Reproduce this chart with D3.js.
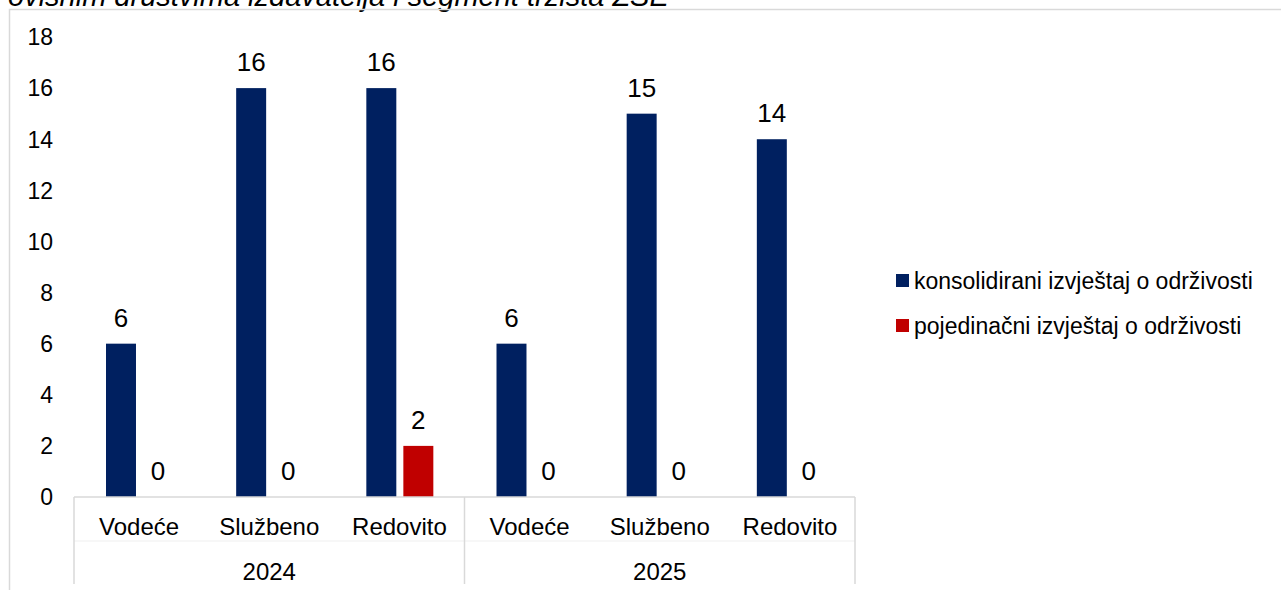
<!DOCTYPE html>
<head>
  <meta charset="utf-8">
  <script src="https://cdn.jsdelivr.net/npm/d3@7"></script>
  <style>
    body { margin: 0; background: #fff; font-family: Arial, 'Liberation Sans', sans-serif; }
    svg text { fill: #000; }
  </style>
</head>
<body>
<div id=chart></div>
<script>
// data
const years = ['2024', '2025']
const segments = ['Vodeće', 'Službeno', 'Redovito']
const series = ['konsolidirani izvještaj o održivosti', 'pojedinačni izvještaj o održivosti']
const consolidated = [6, 16, 16, 6, 15, 14]
const individual = [0, 0, 2, 0, 0, 0]
const y_ticks = [0, 2, 4, 6, 8, 10, 12, 14, 16, 18]
const title_tail = 'ovisnim društvima izdavatelja i segment tržišta ZSE'

const colors = ['#002060', '#C00000']
const grid = '#d9d9d9'

const width = 1281, height = 590
const svg = d3.select('#chart').append('svg')
  .attr('width', width).attr('height', height)
  .attr('viewBox', [0, 0, width, height])

// cut-off title and frame
svg.append('text')
  .attr('x', 8).attr('y', 6)
  .attr('font-size', 29).attr('font-style', 'italic')
  .text(title_tail)
svg.append('path')
  .attr('fill', 'none').attr('stroke', grid).attr('stroke-width', 1.5)
  .attr('d', `M9.5,${height}V9.5H${width}`)

// rows: one per (year, segment)
const rows = years.flatMap((yr, i) => segments.map((s, j) => ({
  key: `${yr}-${s}`, year: yr, seg: s,
  vals: [consolidated[i * 3 + j], individual[i * 3 + j]],
})))

const plot = { left: 74, right: 855, top: 37, bottom: 497 }
const x0 = d3.scaleBand().domain(rows.map(d => d.key)).range([plot.left, plot.right])
const x1 = d3.scaleBand().domain(series).range([32, 99]).paddingInner(0.19)
const y = d3.scaleLinear().domain([0, 18]).range([plot.bottom, plot.top])

// y tick labels
svg.append('g').selectAll().data(y_ticks).join('text')
  .attr('x', 53).attr('y', d => y(d)).attr('dy', '0.36em')
  .attr('text-anchor', 'end').attr('font-size', 23)
  .text(d => d)

// bars
const groups = svg.append('g').selectAll().data(rows).join('g')
  .attr('transform', d => `translate(${x0(d.key)},0)`)
groups.selectAll('rect').data(d => d.vals.map((v, k) => ({ v, k })))
  .join('rect')
  .attr('x', d => x1(series[d.k])).attr('width', x1.bandwidth())
  .attr('y', d => y(d.v)).attr('height', d => y(0) - y(d.v))
  .attr('fill', d => colors[d.k])
groups.selectAll('text').data(d => d.vals.map((v, k) => ({ v, k })))
  .join('text')
  .attr('x', d => x1(series[d.k]) + x1.bandwidth() / 2)
  .attr('y', d => y(d.v) - 17)
  .attr('text-anchor', 'middle').attr('font-size', 26)
  .text(d => d.v)

// x axis: two level categories
const ax = svg.append('g').attr('stroke', grid).attr('stroke-width', 1.5)
ax.append('line').attr('x1', plot.left).attr('x2', plot.right)
  .attr('y1', plot.bottom).attr('y2', plot.bottom)
ax.append('line').attr('x1', plot.left).attr('x2', plot.right)
  .attr('y1', 541).attr('y2', 541).attr('stroke', '#f4f4f4')
const year_edges = [plot.left, x0(rows[3].key), plot.right]
ax.selectAll('.sep').data(year_edges).join('line')
  .attr('x1', d => d).attr('x2', d => d)
  .attr('y1', plot.bottom).attr('y2', 584)

svg.append('g').selectAll().data(rows).join('text')
  .attr('x', d => x0(d.key) + x0.bandwidth() / 2).attr('y', 535)
  .attr('text-anchor', 'middle').attr('font-size', 24)
  .text(d => d.seg)
svg.append('g').selectAll().data(years).join('text')
  .attr('x', (d, i) => (year_edges[i] + year_edges[i + 1]) / 2).attr('y', 580)
  .attr('text-anchor', 'middle').attr('font-size', 24)
  .text(d => d)

// legend
const legend = svg.append('g').selectAll().data(series).join('g')
  .attr('transform', (d, i) => `translate(896,${274 + i * 45})`)
legend.append('rect').attr('width', 13).attr('height', 13).attr('fill', (d, i) => colors[i])
legend.append('text').attr('x', 18).attr('y', 6.5).attr('dy', '0.36em')
  .attr('font-size', 23).text(d => d)
</script>
</body>
